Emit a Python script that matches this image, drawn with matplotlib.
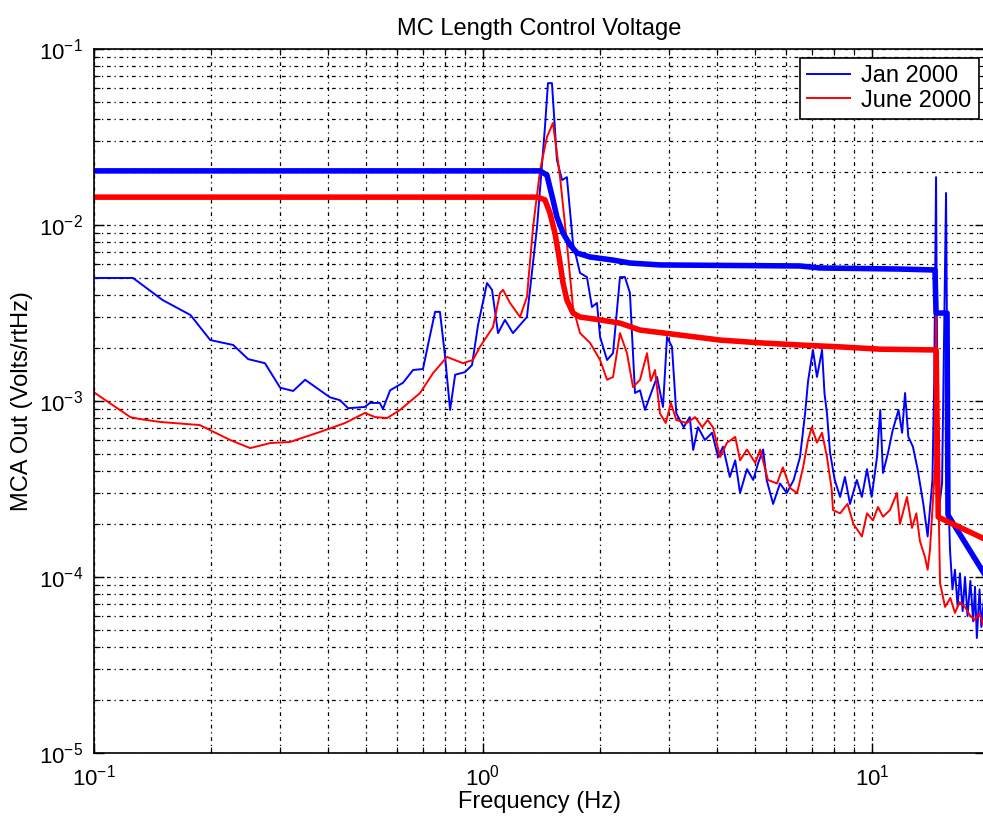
import matplotlib
matplotlib.use("Agg")
import matplotlib.pyplot as plt
from matplotlib.ticker import LogLocator, NullFormatter

# spectrum, Jan 2000 (thin blue)
jan_f = [0.100, 0.126, 0.150, 0.177, 0.199, 0.228, 0.249, 0.275, 0.301, 0.325,
         0.349, 0.381, 0.404, 0.429, 0.450, 0.497, 0.512, 0.543, 0.553, 0.577,
         0.623, 0.661, 0.701, 0.722, 0.753, 0.775, 0.798, 0.823, 0.848, 0.899,
         0.937, 0.971, 1.024, 1.055, 1.093, 1.139, 1.194, 1.297, 1.377, 1.443,
         1.469, 1.504, 1.549, 1.597, 1.643, 1.703, 1.776, 1.850, 1.906, 1.963,
         2.000, 2.084, 2.159, 2.250, 2.317, 2.386, 2.459, 2.533, 2.609, 2.801,
         2.902, 2.972, 3.061, 3.14, 3.28, 3.40, 3.47, 3.57, 3.72, 3.88,
         4.02, 4.14, 4.31, 4.45, 4.58, 4.77, 4.95, 5.10, 5.25, 5.36,
         5.57, 5.80, 6.04, 6.29, 6.53, 6.73, 6.85, 7.05, 7.22, 7.44,
         7.55, 7.66, 7.80, 8.02, 8.28, 8.52, 8.78, 9.14, 9.42, 9.71,
         9.98, 10.3, 10.5, 10.67, 11.0, 11.3, 11.7, 11.95, 12.16, 12.4,
         12.74, 13.1, 13.55, 13.9, 14.3, 14.45, 14.61, 14.78, 15.14, 15.50,
         15.68, 15.87, 16.10, 16.34, 16.6, 16.83, 17.1, 17.34, 17.6, 17.9,
         18.2, 18.4, 18.6, 18.9, 19.1, 19.4]
jan_psd = [5.0e-3, 5.0e-3, 3.75e-3, 3.08e-3, 2.22e-3, 2.08e-3, 1.73e-3, 1.64e-3, 1.19e-3, 1.14e-3,
           1.32e-3, 1.15e-3, 1.05e-3, 1.01e-3, 9.1e-4, 9.25e-4, 9.75e-4, 9.75e-4, 9.0e-4, 1.15e-3,
           1.27e-3, 1.50e-3, 1.52e-3, 2.08e-3, 3.21e-3, 3.21e-3, 1.83e-3, 8.9e-4, 1.41e-3, 1.46e-3,
           1.60e-3, 2.70e-3, 4.68e-3, 4.28e-3, 2.43e-3, 2.89e-3, 2.43e-3, 3.0e-3, 9.75e-3, 0.036,
           0.064, 0.064, 0.0234, 0.018, 0.0187, 7.9e-3, 5.34e-3, 5.06e-3, 3.42e-3, 3.61e-3,
           2.31e-3, 1.71e-3, 1.87e-3, 5.06e-3, 5.06e-3, 4.11e-3, 1.11e-3, 1.15e-3, 8.9e-4, 1.37e-3,
           9.25e-4, 2.31e-3, 2.03e-3, 8.5e-4, 7.1e-4, 8.1e-4, 5.27e-4, 7.1e-4, 6.0e-4, 6.6e-4,
           4.8e-4, 5.5e-4, 3.7e-4, 4.6e-4, 3.0e-4, 4.1e-4, 3.56e-4, 4.45e-4, 5.3e-4, 3.56e-4,
           2.6e-4, 3.4e-4, 3.0e-4, 3.56e-4, 4.8e-4, 8.5e-4, 1.3e-3, 1.95e-3, 1.37e-3, 1.95e-3,
           1.1e-3, 8.5e-4, 5.1e-4, 3.56e-4, 2.85e-4, 3.7e-4, 2.6e-4, 3.56e-4, 2.85e-4, 4.1e-4,
           2.85e-4, 4.8e-4, 8.9e-4, 3.9e-4, 5.1e-4, 6.8e-4, 8.9e-4, 6.6e-4, 1.11e-3, 6.25e-4,
           5.5e-4, 4.1e-4, 2.6e-4, 1.7e-4, 3.56e-4, 1.27e-3, 0.0187, 2.19e-4, 3.42e-4, 0.0152,
           3.42e-4, 1.42e-4, 8.5e-5, 1.1e-4, 6.8e-5, 1.05e-4, 6.4e-5, 1.0e-4, 6.0e-5, 9.5e-5,
           5.6e-5, 8.8e-5, 4.5e-5, 8.5e-5, 5.2e-5, 7.5e-5]

# spectrum, June 2000 (thin red)
jun_f = [0.100, 0.124, 0.131, 0.148, 0.187, 0.224, 0.252, 0.284, 0.319, 0.381,
         0.442, 0.497, 0.528, 0.567, 0.612, 0.689, 0.744, 0.808, 0.888, 0.942,
         0.982, 1.061, 1.106, 1.126, 1.173, 1.245, 1.297, 1.345, 1.402, 1.460,
         1.513, 1.578, 1.643, 1.703, 1.776, 1.884, 2.000, 2.084, 2.159, 2.250,
         2.345, 2.430, 2.533, 2.640, 2.70, 2.768, 2.85, 2.95, 3.04, 3.14,
         3.34, 3.51, 3.66, 3.78, 3.90, 4.07, 4.24, 4.45, 4.58, 4.77,
         5.01, 5.16, 5.40, 5.70, 5.90, 6.16, 6.42, 6.65, 6.85, 7.0,
         7.22, 7.44, 7.66, 7.87, 7.94, 8.28, 8.65, 8.96, 9.42, 9.71,
         10.06, 10.36, 10.67, 11.12, 11.59, 11.8, 12.3, 12.67, 13.0, 13.28,
         13.68, 13.9, 14.09, 14.52, 14.61, 14.78, 14.96, 15.41, 15.9, 16.34,
         16.8, 17.34, 17.9, 18.40, 18.9, 19.4]
jun_psd = [1.12e-3, 8.1e-4, 7.9e-4, 7.6e-4, 7.3e-4, 6.0e-4, 5.4e-4, 5.77e-4, 5.85e-4, 6.67e-4,
           7.5e-4, 8.55e-4, 8.1e-4, 8.0e-4, 8.9e-4, 1.11e-3, 1.44e-3, 1.78e-3, 1.64e-3, 1.71e-3,
           2.03e-3, 2.63e-3, 4.11e-3, 4.28e-3, 3.61e-3, 3.0e-3, 3.9e-3, 9.75e-3, 0.0205, 0.0316,
           0.038, 0.0187, 7.9e-3, 3.42e-3, 2.43e-3, 2.14e-3, 1.71e-3, 1.32e-3, 1.37e-3, 2.43e-3,
           1.87e-3, 1.20e-3, 1.32e-3, 1.87e-3, 1.3e-3, 1.50e-3, 8.5e-4, 7.5e-4, 9.75e-4, 7.8e-4,
           7.5e-4, 8.1e-4, 7.1e-4, 7.8e-4, 7.1e-4, 4.8e-4, 5.8e-4, 6.25e-4, 4.6e-4, 5.3e-4,
           4.45e-4, 5.3e-4, 3.56e-4, 3.4e-4, 4.2e-4, 3.2e-4, 3.0e-4, 4.2e-4, 6.0e-4, 7.1e-4,
           5.8e-4, 6.6e-4, 4.8e-4, 3.2e-4, 2.4e-4, 2.3e-4, 2.6e-4, 2.0e-4, 1.7e-4, 2.3e-4,
           2.1e-4, 2.5e-4, 2.2e-4, 2.4e-4, 3.0e-4, 2.0e-4, 2.85e-4, 1.9e-4, 2.3e-4, 1.6e-4,
           1.3e-4, 1.1e-4, 1.42e-4, 4.22e-4, 3.1e-3, 4.0e-4, 9.25e-5, 6.76e-5, 7.6e-5, 6.25e-5,
           7.2e-5, 6.76e-5, 6.0e-5, 5.7e-5, 6.2e-5, 5.2e-5]

# cumulative rms, Jan 2000 (thick blue)
jan_rms_f = [0.100, 1.402, 1.460, 1.513, 1.549, 1.606, 1.674, 1.745, 1.884, 2.159,
             2.386, 2.852, 6.53, 7.35, 11.8, 14.52, 14.61, 15.59, 15.68, 19.4]
jan_rms = [0.0203, 0.0203, 0.0192, 0.0139, 0.0111, 0.0090, 0.0077, 0.00693, 0.00658, 0.00632,
           0.00608, 0.00593, 0.00585, 0.0057, 0.00562, 0.00555, 0.00316, 0.00316, 0.000225, 0.000105]

# cumulative rms, June 2000 (thick red)
jun_rms_f = [0.100, 1.377, 1.443, 1.486, 1.531, 1.578, 1.606, 1.643, 1.703, 1.776,
             2.000, 2.250, 2.533, 3.209, 4.066, 5.155, 6.53, 8.28, 10.49, 14.62,
             14.80, 19.4]
jun_rms = [0.0144, 0.0144, 0.0139, 0.0117, 0.0090, 0.00608, 0.00468, 0.00375, 0.00316, 0.0030,
           0.00289, 0.00277, 0.00253, 0.00237, 0.00222, 0.00214, 0.00208, 0.00203, 0.00197, 0.00195,
           0.000219, 0.000165]

plt.rcParams['font.family'] = ['Liberation Sans', 'DejaVu Sans']
plt.rcParams['mathtext.default'] = 'regular'

fig = plt.figure(figsize=(9.83, 8.22), dpi=100)
ax = fig.add_axes([94/983, 1 - 753/822, 891/983, 704/822])

l1, = ax.plot(jan_f, jan_psd, color='#0000ff', lw=1.4, label='Jan 2000')
l2, = ax.plot(jun_f, jun_psd, color='#ff0000', lw=1.4, label='June 2000')
ax.plot(jan_rms_f, jan_rms, color='#0000ff', lw=4)
ax.plot(jun_rms_f, jun_rms, color='#ff0000', lw=4)

ax.set_xscale('log'); ax.set_yscale('log')
ax.set_xlim(0.1, 19.52)
ax.set_ylim(1e-5, 1e-1)
ax.xaxis.set_minor_formatter(NullFormatter())
ax.yaxis.set_minor_formatter(NullFormatter())
ax.yaxis.set_major_locator(LogLocator(base=10, numticks=10))

ax.set_axisbelow(True)
ax.grid(True, which='both', color='k', linestyle=(0, (3, 3, 1, 3)), linewidth=0.9)
ax.tick_params(which='both', direction='in', top=True, right=True, labelsize=16, pad=8)
ax.tick_params(which='major', length=7, width=1)
ax.tick_params(which='minor', length=4, width=0.8)
for s in ax.spines.values():
    s.set_linewidth(1.2)

ax.set_title('MC Length Control Voltage', fontsize=17, pad=10)
ax.set_xlabel('Frequency (Hz)', fontsize=17, labelpad=1)
ax.set_ylabel('MCA Out (Volts/rtHz)', fontsize=17, labelpad=4)

leg = ax.legend(handles=[l1, l2], loc='upper right', bbox_to_anchor=(0.993, 0.987),
                borderaxespad=0, fontsize=17, fancybox=False, framealpha=1,
                edgecolor='k', handlelength=1.8, labelspacing=0.1, borderpad=0.3,
                handletextpad=0.5)
leg.get_frame().set_linewidth(1.2)

fig.savefig('out.png', dpi=100)
